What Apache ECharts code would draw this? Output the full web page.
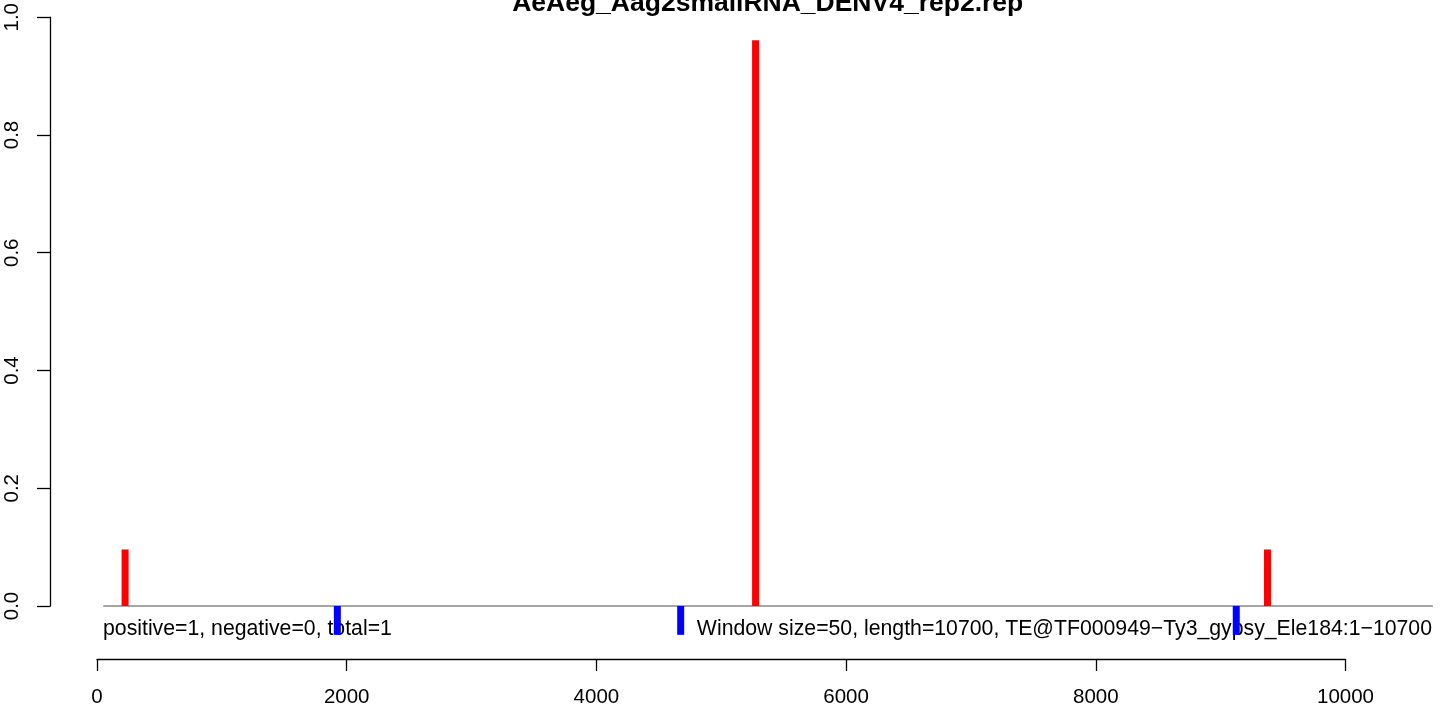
<!DOCTYPE html>
<html>
<head>
<meta charset="utf-8">
<script src="https://cdn.jsdelivr.net/npm/echarts@6/dist/echarts.min.js"></script>
<style>
html,body{margin:0;padding:0;background:#fff;}
#chart{width:1444px;height:709px;}
</style>
</head>
<body>
<div id="chart"></div>
<script>
// ---- data ----
var titleText = "AeAeg_Aag2smallRNA_DENV4_rep2.rep";
var positivePos = [225, 5275, 9375];
var positiveVal = [0.096, 0.961, 0.096];
var negativePos = [1925, 4675, 9125];
var negativeVal = [-0.049, -0.049, -0.049];
var baselineRange = [50, 10700];
var xTicks = [0, 2000, 4000, 6000, 8000, 10000];
var yTicks = [0.0, 0.2, 0.4, 0.6, 0.8, 1.0];
var leftNote = "positive=1, negative=0, total=1";
var rightNote = "Window size=50, length=10700, TE@TF000949\u2212Ty3_gypsy_Ele184:1\u221210700";

var FONT = "'Liberation Sans', Arial, Helvetica, sans-serif";

var chart = echarts.init(document.getElementById('chart'), null, {renderer: 'canvas'});

function pairs(xs, ys) { return xs.map(function (x, i) { return [x, ys[i]]; }); }

// pixel scale: 0 -> 97px, 10000 -> 1345.5px
var PX_PER_UNIT = 1248.5 / 10000;
var DATA_MAX_X = 10760;

var option = {
  backgroundColor: '#ffffff',
  animation: false,
  grid: [
    {left: 97, top: 14, width: DATA_MAX_X * PX_PER_UNIT, height: 592, containLabel: false},
    {left: 97, top: 600, width: 1248.5, height: 59, containLabel: false}
  ],
  xAxis: [
    {
      type: 'value', gridIndex: 0, min: 0, max: DATA_MAX_X, show: false
    },
    {
      type: 'value', gridIndex: 1,
      min: xTicks[0], max: xTicks[xTicks.length - 1], interval: 2000,
      position: 'bottom',
      splitLine: {show: false},
      axisLine: {show: true, onZero: false, lineStyle: {color: '#000', width: 1.3}},
      axisTick: {show: true, length: 12, lineStyle: {color: '#000', width: 1.3}},
      axisLabel: {color: '#000', fontFamily: FONT, fontSize: 20.5, margin: 28,
        formatter: function (v) { return String(v); }}
    }
  ],
  yAxis: [
    {
      type: 'value', gridIndex: 0,
      min: yTicks[0], max: yTicks[yTicks.length - 1], interval: 0.2,
      position: 'left',
      offset: 47,
      splitLine: {show: false},
      axisLine: {show: true, onZero: false, lineStyle: {color: '#000', width: 1.3}},
      axisTick: {show: true, length: 13, lineStyle: {color: '#000', width: 1.3}},
      axisLabel: {color: '#000', fontFamily: FONT, fontSize: 20.5, rotate: 90, margin: 27,
        formatter: function (v) { return v.toFixed(1); }}
    },
    {
      type: 'value', gridIndex: 1, min: 0, max: 1, show: false
    }
  ],
  graphic: [
    {type: 'text', z: 0, x: 767.7, y: 4, style: {text: titleText,
      font: 'bold 26.5px ' + FONT, fill: '#000', textAlign: 'center', textVerticalAlign: 'middle'}},
    {type: 'text', z: 0, x: 103, y: 629, style: {text: leftNote, font: '21.25px ' + FONT, fill: '#000',
      textAlign: 'left', textVerticalAlign: 'middle'}},
    {type: 'text', z: 0, x: 1432, y: 629, style: {text: rightNote, font: '21.25px ' + FONT, fill: '#000',
      textAlign: 'right', textVerticalAlign: 'middle'}}
  ],
  series: [
    {
      type: 'line', xAxisIndex: 0, yAxisIndex: 0,
      data: [[baselineRange[0], 0], [baselineRange[1], 0]],
      symbol: 'none', clip: false, z: 3,
      lineStyle: {color: '#A6A6A6', width: 1.8}
    },
    {
      type: 'bar', xAxisIndex: 0, yAxisIndex: 0,
      data: pairs(positivePos, positiveVal), barWidth: 7, barGap: '-100%',
      clip: false, z: 5, itemStyle: {color: '#FF0000'}
    },
    {
      type: 'bar', xAxisIndex: 0, yAxisIndex: 0,
      data: pairs(negativePos, negativeVal), barWidth: 7, barGap: '-100%',
      clip: false, z: 5, itemStyle: {color: '#0000FF'}
    }
  ]
};
chart.setOption(option);
</script>
</body>
</html>
